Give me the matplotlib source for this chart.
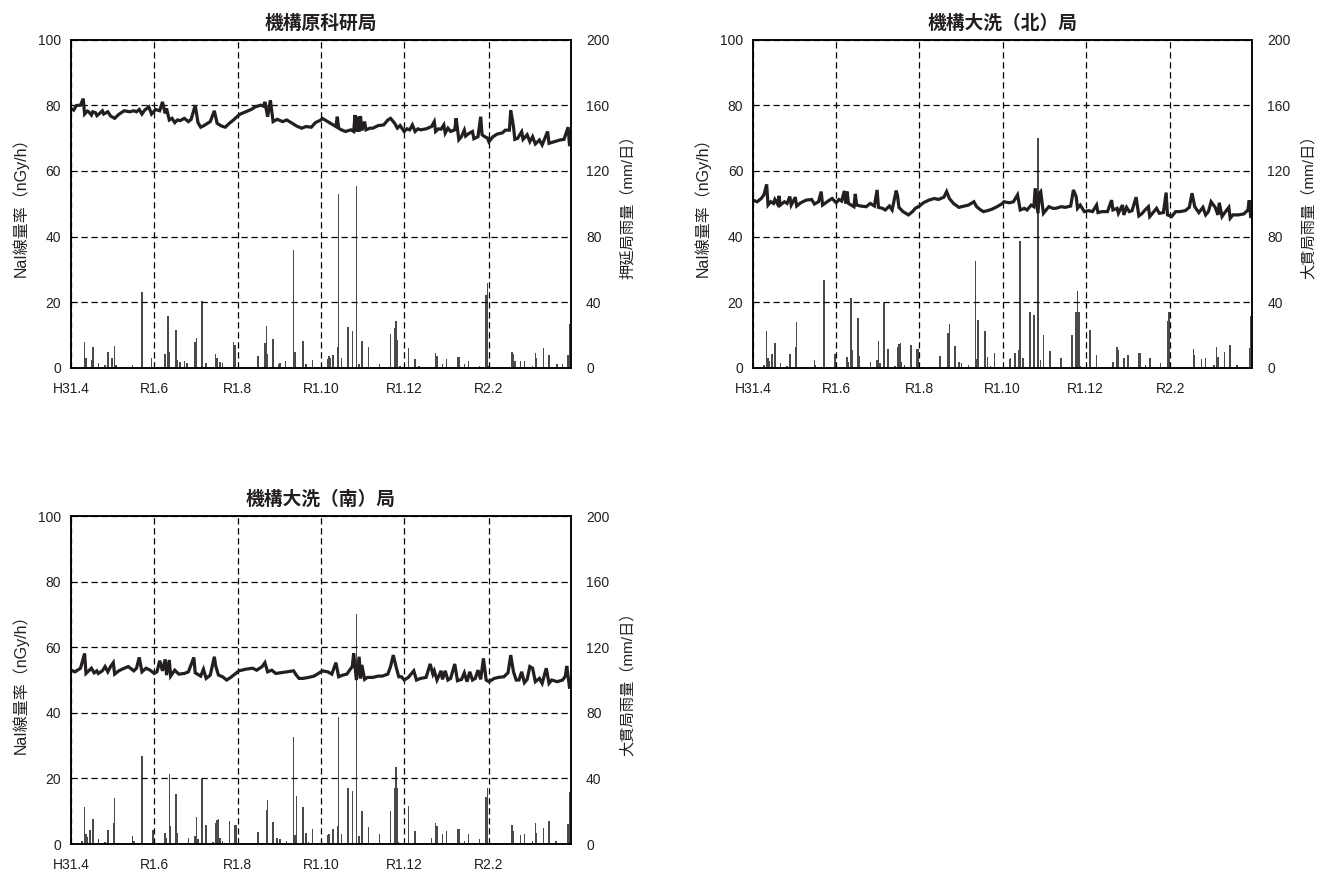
import matplotlib
matplotlib.use('Agg')
import matplotlib.pyplot as plt
import pandas as pd

plt.rcParams['font.family'] = ['Liberation Sans', 'Noto Sans CJK JP', 'DejaVu Sans']

start = pd.Timestamp('2019-04-01')
tick_dates = ['2019-04-01', '2019-06-01', '2019-08-01', '2019-10-01', '2019-12-01', '2020-02-01']
tick_labels = ['H31.4', 'R1.6', 'R1.8', 'R1.10', 'R1.12', 'R2.2']

# NaI dose rate (nGy/h), day index from 2019-04-01
genken_days = [0, 2, 4, 7, 9, 10, 12, 13, 15, 16, 18, 19, 21, 23, 24, 27, 29, 32, 35, 39,
               43, 46, 48, 50, 52, 54, 57, 59, 62, 65, 67, 69, 70, 72, 74, 76, 78, 80, 83, 86,
               88, 91, 93, 95, 97, 100, 102, 105, 107, 110, 113, 116, 119, 121, 124, 128, 132, 135, 139, 141,
               142, 144, 146, 148, 151, 155, 158, 162, 165, 169, 172, 176, 179, 183, 184, 188, 192, 194, 195, 196,
               198, 201, 205, 207, 208, 209, 210, 211, 212, 213, 215, 216, 219, 221, 225, 229, 232, 234, 236, 237,
               239, 241, 244, 246, 248, 250, 252, 254, 256, 260, 264, 266, 267, 269, 271, 273, 274, 276, 278, 281,
               282, 284, 286, 288, 289, 291, 294, 295, 298, 300, 301, 303, 305, 306, 309, 312, 316, 318, 321, 322,
               324, 325, 327, 330, 331, 334, 336, 338, 340, 343, 345, 349, 350, 354, 358, 361, 364, 365]
genken_nai = [79.0, 78.5, 79.9, 80.0, 82.0, 77.3, 78.2, 78.0, 77.0, 78.0, 77.7, 76.8, 77.5, 78.3, 77.3, 78.0, 76.7, 76.0, 77.2, 78.3,
              78.0, 78.3, 78.0, 78.7, 77.3, 78.5, 79.5, 77.3, 78.7, 78.3, 81.0, 77.5, 79.0, 75.5, 76.0, 74.7, 75.5, 75.3, 76.0, 75.0,
              75.7, 80.0, 74.7, 73.3, 73.7, 74.5, 75.0, 78.3, 74.5, 73.7, 73.3, 74.5, 75.5, 76.3, 77.3, 78.0, 78.7, 79.5, 80.0, 79.7,
              81.0, 76.5, 81.5, 75.0, 75.7, 75.0, 75.5, 74.5, 73.7, 73.0, 73.5, 73.3, 74.7, 75.5, 76.0, 75.0, 74.0, 73.5, 76.5, 73.0,
              72.5, 72.0, 72.5, 72.0, 77.0, 72.0, 76.5, 72.0, 76.7, 72.3, 75.0, 72.5, 73.0, 73.0, 73.8, 74.0, 75.5, 76.0, 75.0, 74.5,
              73.0, 73.8, 72.0, 72.8, 72.5, 74.0, 72.0, 72.8, 72.5, 72.8, 73.5, 75.0, 72.0, 72.8, 72.7, 74.0, 71.5, 73.0, 72.0, 72.5,
              76.0, 69.5, 70.5, 72.4, 70.6, 71.3, 72.0, 69.8, 70.4, 76.5, 71.0, 70.4, 70.0, 68.9, 70.4, 71.2, 71.6, 72.4, 72.4, 78.5,
              73.5, 69.6, 69.9, 71.9, 69.6, 71.0, 68.9, 70.4, 68.2, 69.4, 67.9, 72.0, 68.4, 68.9, 69.4, 69.6, 73.3, 68.0]

kita_days = [0, 3, 6, 8, 10, 11, 13, 15, 16, 18, 19, 20, 23, 25, 27, 28, 31, 32, 35, 39,
             43, 45, 48, 50, 51, 55, 58, 61, 63, 65, 67, 68, 69, 70, 74, 75, 76, 79, 83, 86,
             89, 91, 92, 95, 97, 100, 102, 105, 106, 107, 110, 112, 114, 117, 119, 122, 125, 129, 133, 136,
             140, 142, 144, 147, 151, 155, 158, 162, 164, 167, 169, 172, 175, 179, 183, 184, 188, 191, 194, 196,
             199, 201, 204, 206, 207, 209, 210, 211, 213, 215, 217, 220, 222, 226, 229, 233, 235, 237, 238, 240,
             243, 246, 249, 252, 253, 256, 260, 263, 264, 267, 268, 271, 272, 274, 276, 278, 281, 283, 285, 288,
             290, 291, 294, 296, 298, 301, 303, 304, 307, 310, 313, 317, 320, 322, 324, 327, 330, 332, 334, 336,
             339, 341, 342, 344, 346, 349, 350, 352, 356, 360, 363, 364, 365]
kita_nai = [51.1, 50.6, 51.6, 52.7, 55.9, 49.6, 50.6, 50.1, 51.3, 49.9, 52.4, 49.6, 50.6, 50.1, 52.2, 49.6, 52.0, 49.3, 50.3, 51.1,
            51.3, 49.9, 50.6, 53.7, 49.6, 50.8, 51.6, 50.3, 51.3, 50.8, 53.9, 50.1, 53.7, 50.1, 49.1, 53.0, 49.6, 49.3, 49.1, 50.1,
            49.3, 54.2, 48.9, 48.6, 48.1, 49.3, 48.1, 54.0, 52.4, 48.9, 47.6, 47.1, 46.6, 47.6, 48.6, 49.3, 50.3, 51.1, 51.6, 51.3,
            52.0, 53.7, 51.6, 50.1, 48.9, 49.3, 49.6, 50.6, 49.1, 48.1, 47.6, 47.9, 48.3, 49.1, 50.1, 50.6, 50.3, 50.6, 52.7, 48.1,
            48.6, 48.1, 49.6, 49.1, 54.7, 47.1, 53.2, 53.7, 47.1, 48.1, 49.1, 48.6, 48.6, 49.1, 48.9, 49.3, 54.2, 52.2, 48.6, 49.6,
            47.6, 47.9, 47.6, 49.6, 47.3, 47.6, 47.6, 51.1, 48.1, 48.6, 47.1, 49.6, 46.6, 48.9, 47.6, 47.9, 52.0, 46.3, 46.9, 48.3,
            49.1, 46.1, 47.6, 48.6, 47.1, 47.3, 53.4, 46.6, 46.1, 47.6, 47.6, 47.9, 48.9, 53.2, 49.1, 47.3, 48.9, 46.6, 47.6, 50.6,
            48.9, 46.6, 50.3, 46.1, 47.3, 48.9, 45.6, 46.6, 46.6, 46.9, 48.1, 51.1, 46.1]

minami_days = [0, 3, 7, 10, 11, 13, 15, 17, 19, 20, 23, 25, 27, 29, 31, 32, 35, 39, 42, 46,
               48, 50, 52, 55, 58, 61, 63, 65, 67, 69, 70, 72, 73, 76, 79, 83, 86, 90, 91, 95,
               97, 99, 102, 105, 106, 108, 111, 114, 117, 120, 123, 128, 133, 136, 140, 142, 144, 147, 150, 153,
               158, 163, 165, 167, 170, 174, 178, 183, 184, 188, 191, 194, 196, 199, 202, 204, 206, 207, 209, 211,
               212, 213, 215, 217, 221, 225, 228, 232, 234, 236, 238, 240, 242, 244, 247, 251, 253, 256, 260, 263,
               265, 266, 268, 271, 272, 274, 276, 278, 281, 283, 286, 288, 290, 292, 294, 296, 298, 300, 302, 304,
               306, 310, 313, 317, 320, 322, 324, 326, 328, 330, 332, 334, 336, 338, 340, 343, 345, 348, 350, 352,
               356, 360, 362, 363, 365]
minami_nai = [53.0, 52.5, 53.6, 58.1, 52.0, 52.8, 53.6, 52.2, 52.8, 52.0, 52.8, 54.1, 52.5, 54.1, 55.3, 51.8, 52.8, 53.6, 54.1, 52.8,
              53.6, 56.9, 52.5, 53.6, 53.0, 52.0, 52.5, 55.9, 52.8, 56.3, 51.5, 56.1, 51.2, 53.0, 51.8, 52.0, 52.5, 56.9, 52.2, 51.2,
              53.3, 50.5, 51.5, 57.1, 54.3, 51.5, 51.0, 50.0, 50.8, 51.8, 52.8, 53.3, 53.6, 53.0, 54.1, 55.3, 52.5, 53.0, 52.0, 52.2,
              52.5, 52.8, 51.5, 50.5, 50.5, 50.8, 51.2, 52.5, 52.8, 52.5, 51.8, 55.3, 51.0, 51.5, 51.8, 53.0, 54.1, 58.1, 50.0, 57.1,
              50.5, 54.6, 50.2, 50.8, 50.8, 51.2, 51.2, 51.8, 54.1, 57.6, 54.1, 51.0, 51.0, 50.0, 50.8, 52.8, 50.0, 50.5, 50.8, 54.9,
              51.8, 52.8, 50.0, 52.8, 50.2, 52.8, 50.0, 50.5, 54.9, 49.8, 50.2, 52.2, 49.5, 52.5, 50.0, 50.5, 53.0, 50.2, 56.6, 50.0,
              49.5, 50.5, 50.8, 51.0, 52.2, 57.6, 52.5, 50.0, 50.0, 52.5, 49.2, 50.2, 54.1, 53.6, 49.5, 50.5, 49.0, 53.6, 49.0, 50.0,
              49.5, 50.0, 51.2, 54.3, 47.8]

# daily rainfall (mm/day), rainy days only
oshinobe_days = [10, 11, 15, 16, 20, 25, 27, 30, 32, 33, 45, 52, 59, 69, 71, 72, 77, 78, 80, 83,
                 85, 91, 92, 96, 99, 106, 107, 109, 111, 119, 120, 137, 142, 143, 144, 148, 152, 153, 157, 163,
                 164, 170, 172, 177, 188, 189, 190, 192, 195, 196, 198, 203, 206, 209, 211, 213, 218, 226, 234, 237,
                 238, 239, 241, 247, 252, 255, 267, 268, 272, 275, 283, 284, 288, 291, 299, 304, 305, 306, 323, 324,
                 325, 329, 332, 338, 340, 341, 346, 350, 356, 360, 364, 365]
oshinobe_mm = [15.6, 6.3, 5, 13, 3, 1.6, 9.5, 6, 13.6, 2, 1.6, 46.4, 6, 8.5, 31.6, 10, 23, 5, 3.5, 4,
               3, 16, 18, 40.8, 3, 8.3, 6.3, 3.9, 2.8, 15.6, 14, 7, 15, 25.6, 8.3, 17.4, 2.4, 2.8, 4, 71.8,
               10, 16.4, 2.4, 5, 5.3, 7, 6, 8, 12.6, 106, 6, 25, 22.5, 111, 2.4, 16.4, 12.6, 2.4, 20.5, 24.5,
               28.8, 17, 1, 12.4, 5.3, 1, 9, 7.5, 2.2, 5.3, 6.5, 6.5, 2.4, 4, 1, 44.4, 52, 1, 9.7, 8.3,
               4, 4, 4.5, 1, 9.3, 6, 12, 8, 2.4, 2.4, 8, 27]

ohnuki_days = [8, 10, 11, 12, 14, 16, 20, 25, 27, 31, 32, 45, 46, 52, 60, 69, 70, 72, 73, 77,
               78, 86, 91, 92, 93, 96, 99, 104, 106, 107, 108, 109, 111, 116, 120, 121, 137, 143, 144, 148,
               151, 153, 158, 163, 164, 165, 170, 172, 174, 177, 188, 189, 192, 195, 196, 198, 203, 206, 209, 211,
               213, 218, 226, 234, 237, 238, 239, 240, 247, 252, 264, 267, 268, 272, 275, 283, 284, 288, 291, 299,
               304, 305, 323, 324, 329, 332, 338, 340, 341, 346, 350, 355, 364, 365]
ohnuki_mm = [1.8, 22.5, 6.3, 4, 8.3, 15.4, 3.2, 1, 8.5, 12.6, 28.2, 4.9, 1.8, 53.5, 8.3, 6.9, 3.5, 42.4, 11, 30.6,
             7, 3.4, 5, 16.4, 3, 39.8, 11.4, 1.2, 13, 14.4, 15, 3.9, 1.8, 14, 11.8, 11.8, 7.3, 21, 27, 13.4,
             3.9, 2.8, 1.8, 65.3, 5.3, 29.2, 22.7, 6.9, 1.2, 9.3, 5.3, 6, 9.3, 11, 77.5, 6, 34.3, 32.3, 140, 4.9,
             20, 10.3, 6.3, 20, 34, 47, 34, 1, 23.1, 7.9, 3.9, 13, 11, 6.3, 7.9, 8.9, 8.9, 1.8, 6.3, 3.2,
             28.6, 34.3, 11.4, 7.9, 5.5, 6.3, 1.8, 13, 6.9, 9.7, 13.8, 1.8, 12.4, 31.6]

titles = ['機構原科研局', '機構大洗（北）局', '機構大洗（南）局']
rain_labels = ['押延局雨量（mm/日）', '大貫局雨量（mm/日）', '大貫局雨量（mm/日）']

tick_pos = [(pd.Timestamp(t) - start).days for t in tick_dates]
n_days = (pd.Timestamp('2020-04-01') - start).days

fig = plt.figure(figsize=(13.26, 8.72), dpi=100)
rects = [[0.0535, 0.578, 0.377, 0.3767],
         [0.5679, 0.578, 0.3763, 0.3767],
         [0.0535, 0.0321, 0.377, 0.3761]]
panels = [(genken_days, genken_nai, oshinobe_days, oshinobe_mm),
          (kita_days, kita_nai, ohnuki_days, ohnuki_mm),
          (minami_days, minami_nai, ohnuki_days, ohnuki_mm)]

for rect, (ld, lv, rd, rv), title, rlab in zip(rects, panels, titles, rain_labels):
    ax = fig.add_axes(rect)
    ax2 = ax.twinx()
    ax2.bar(rd, rv, width=1.1, color='#4a4a4a', linewidth=0)
    ax.plot(ld, lv, color='#231f20', lw=2.3, solid_joinstyle='miter')
    ax.set_zorder(ax2.get_zorder() + 1)
    ax.patch.set_visible(False)

    ax.set_xlim(0, n_days)
    ax.set_ylim(0, 100)
    ax2.set_ylim(0, 200)
    ax.set_yticks(range(0, 101, 20))
    ax2.set_yticks(range(0, 201, 40))
    ax.set_xticks(tick_pos)
    ax.set_xticklabels(tick_labels)
    ax.grid(True, color='black', linestyle=(0, (5, 3)), lw=0.9)
    ax.tick_params(length=0, labelsize=10, pad=10, colors='#231f20')
    ax.tick_params(axis='y', pad=7)
    ax2.tick_params(length=0, labelsize=10, pad=11, colors='#231f20')
    for sp in list(ax.spines.values()) + list(ax2.spines.values()):
        sp.set_color('black')
        sp.set_linewidth(1.1)

    ax.set_title(title, fontsize=13.5, fontweight='bold', color='#231f20', pad=8)
    ax.set_ylabel('NaI線量率（nGy/h）', fontsize=11.5, labelpad=7, color='#231f20')
    ax2.set_ylabel(rlab, fontsize=11, labelpad=8, color='#231f20')

fig.savefig('out.png', dpi=100)
